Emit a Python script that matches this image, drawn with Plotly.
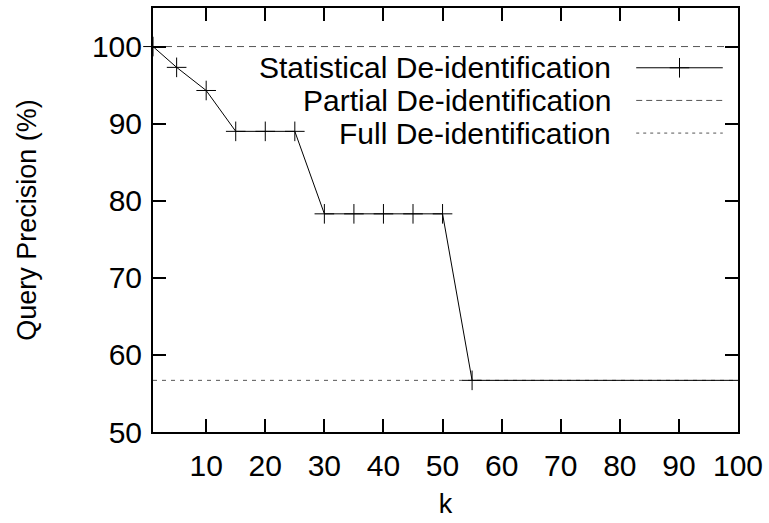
import plotly.graph_objects as go

k_values = [1, 5, 10, 15, 20, 25, 30, 35, 40, 45, 50, 55, 100]
statistical = [100, 97.3, 94.3, 89.0, 89.0, 89.0, 78.3, 78.3, 78.3, 78.3, 78.3, 56.7, 56.7]
marker_k = [1, 5, 10, 15, 20, 25, 30, 35, 40, 45, 50, 55]
partial_level = 100.0
full_level = 56.7
k_range = [1, 100]
x_ticks = [10, 20, 30, 40, 50, 60, 70, 80, 90, 100]
y_ticks = [50, 60, 70, 80, 90, 100]
legend_names = ["Statistical De-identification", "Partial De-identification", "Full De-identification"]

FONT = "Liberation Sans, Arial, Helvetica, sans-serif"
FS = 30
TFS = 27

fig = go.Figure()

# Partial (dashed) and Full (dotted) reference lines
fig.add_trace(go.Scatter(x=k_range, y=[partial_level] * 2, mode="lines",
                         line=dict(color="#555", width=1, dash="7px,5px"),
                         cliponaxis=False, showlegend=False))
fig.add_trace(go.Scatter(x=k_range, y=[full_level] * 2, mode="lines",
                         line=dict(color="#555", width=1, dash="4px,5px"),
                         cliponaxis=False, showlegend=False))

# Statistical line
fig.add_trace(go.Scatter(x=k_values, y=statistical, mode="lines",
                         line=dict(color="black", width=1),
                         cliponaxis=False, showlegend=False))
stat_lookup = dict(zip(k_values, statistical))
fig.add_trace(go.Scatter(x=marker_k, y=[stat_lookup[k] for k in marker_k], mode="markers",
                         marker=dict(symbol="cross-thin", size=14,
                                     line=dict(color="black", width=1)),
                         cliponaxis=False, showlegend=False))

# Gnuplot-style legend: text right-aligned, sample on the right
rows_y = [0.859, 0.782, 0.705]
sx0, sx1 = 0.826, 0.974
styles = [dict(color="black", width=1), dict(color="#555", width=1, dash="6px,4px"),
          dict(color="#555", width=1, dash="3px,4px")]
for name, ry, st in zip(legend_names, rows_y, styles):
    fig.add_annotation(x=0.787, y=ry, xref="paper", yref="paper", text=name,
                       showarrow=False, xanchor="right", yanchor="middle",
                       font=dict(family=FONT, size=FS, color="black"))
    fig.add_trace(go.Scatter(x=[sx0, sx1], y=[ry, ry], xaxis="x2", yaxis="y2",
                             mode="lines", line=st, showlegend=False, hoverinfo="skip"))
fig.add_trace(go.Scatter(x=[(sx0 + sx1) / 2], y=[rows_y[0]], xaxis="x2", yaxis="y2",
                         mode="markers",
                         marker=dict(symbol="cross-thin", size=14, line=dict(color="black", width=1)),
                         showlegend=False, hoverinfo="skip"))

axis_common = dict(showline=True, linecolor="black", linewidth=2, mirror="ticks",
                   ticks="inside", ticklen=13, tickwidth=2, tickcolor="black",
                   showgrid=False, zeroline=False,
                   tickfont=dict(family=FONT, size=FS, color="black"))

fig.update_layout(
    width=769, height=523,
    margin=dict(l=153, r=31, t=6, b=91),
    paper_bgcolor="white", plot_bgcolor="white",
    showlegend=False,
    xaxis=dict(range=k_range, tickvals=x_ticks, ticklabelstandoff=6,
               title=dict(text="k", font=dict(family=FONT, size=TFS, color="black"), standoff=13),
               **axis_common),
    yaxis=dict(range=[50, 105], tickvals=y_ticks, ticklabelstandoff=3,
               title=dict(text="Query Precision (%)", font=dict(family=FONT, size=TFS, color="black"),
                          standoff=47),
               **axis_common),
    xaxis2=dict(range=[0, 1], overlaying="x", visible=False, fixedrange=True),
    yaxis2=dict(range=[0, 1], overlaying="y", visible=False, fixedrange=True),
)

fig.write_html("out.html")
